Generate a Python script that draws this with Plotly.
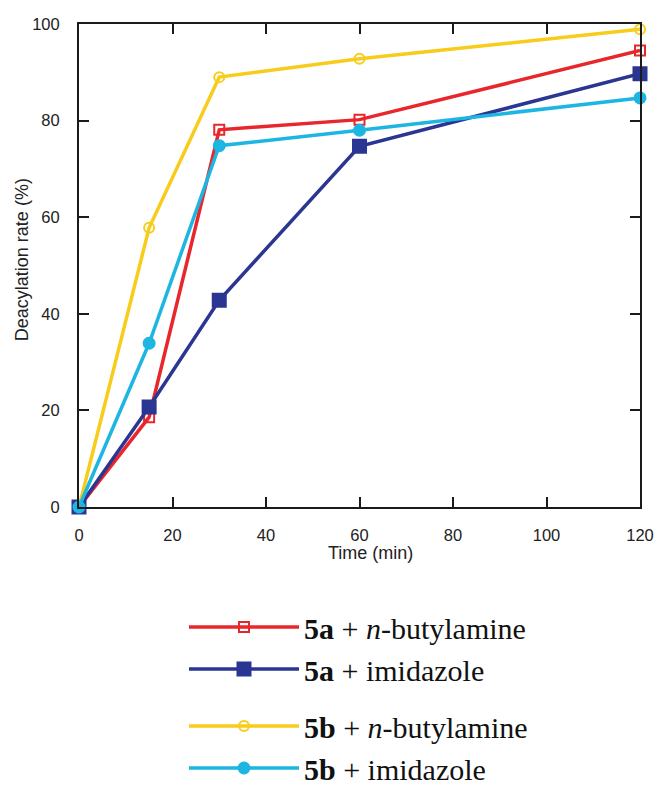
import plotly.graph_objects as go

time_min = [0, 15, 30, 60, 120]
a_butylamine = [0, 18.6, 78.1, 80.2, 94.5]
a_imidazole = [0, 20.7, 42.8, 74.7, 89.7]
b_butylamine = [0, 57.8, 89.0, 92.8, 98.9]
b_imidazole = [0, 33.9, 74.8, 78.0, 84.7]

x_ticks = [0, 20, 40, 60, 80, 100, 120]
y_ticks = [0, 20, 40, 60, 80, 100]

names = [
    "<b>5a</b> + <i>n</i>-butylamine",
    "<b>5a</b> + imidazole",
    "<b>5b</b> + <i>n</i>-butylamine",
    "<b>5b</b> + imidazole",
]
series = [a_butylamine, a_imidazole, b_butylamine, b_imidazole]
colors = ["#E8262B", "#2B3592", "#F8CC1B", "#1DB6E2"]
symbols = ["square-open", "square", "circle-open", "circle"]
sizes = [10, 13, 10, 11]
groups = ["a", "a", "b", "b"]

fig = go.Figure()
for name, ys, c, s, sz, g in zip(names, series, colors, symbols, sizes, groups):
    fig.add_trace(go.Scatter(
        x=time_min, y=ys, name=name, mode="lines+markers",
        line=dict(color=c, width=3.5),
        marker=dict(symbol=s, size=sz, color=c, line=dict(color=c, width=2)),
        cliponaxis=False, legendgroup=g,
    ))

sans = "Liberation Sans, Arial, sans-serif"
axis_common = dict(
    showline=True, linecolor="#1a1a1a", linewidth=2, mirror="ticks",
    ticks="inside", ticklen=10, tickwidth=2, tickcolor="#1a1a1a",
    showgrid=False, zeroline=False, automargin=False,
    tickfont=dict(family=sans, size=16.5, color="#222"),
)

fig.update_xaxes(range=[0, 120], tickvals=x_ticks, ticklabelstandoff=12, **axis_common)
fig.update_yaxes(range=[0, 100], tickvals=y_ticks, ticklabelstandoff=14, **axis_common)

fig.add_annotation(
    text="Time (min)", xref="paper", yref="paper",
    x=0.52, y=-0.095, xanchor="center", yanchor="middle", showarrow=False,
    font=dict(family=sans, size=18, color="#222"),
)
fig.add_annotation(
    text="Deacylation rate (%)", xref="paper", yref="paper", textangle=-90,
    x=-0.1016, y=0.511, xanchor="center", yanchor="middle", showarrow=False,
    font=dict(family=sans, size=18, color="#222"),
)

fig.update_layout(
    width=658, height=790,
    margin=dict(l=79, r=18, t=24, b=283, autoexpand=False),
    paper_bgcolor="white", plot_bgcolor="white",
    showlegend=True,
    legend=dict(
        xref="container", yref="container",
        x=184 / 658, y=1 - 601 / 790, xanchor="left", yanchor="top",
        font=dict(family="Liberation Serif, Times New Roman, serif", size=30, color="#111"),
        traceorder="grouped", tracegroupgap=15, itemwidth=110,
        bgcolor="rgba(0,0,0,0)",
    ),
)

fig.write_html("out.html")
